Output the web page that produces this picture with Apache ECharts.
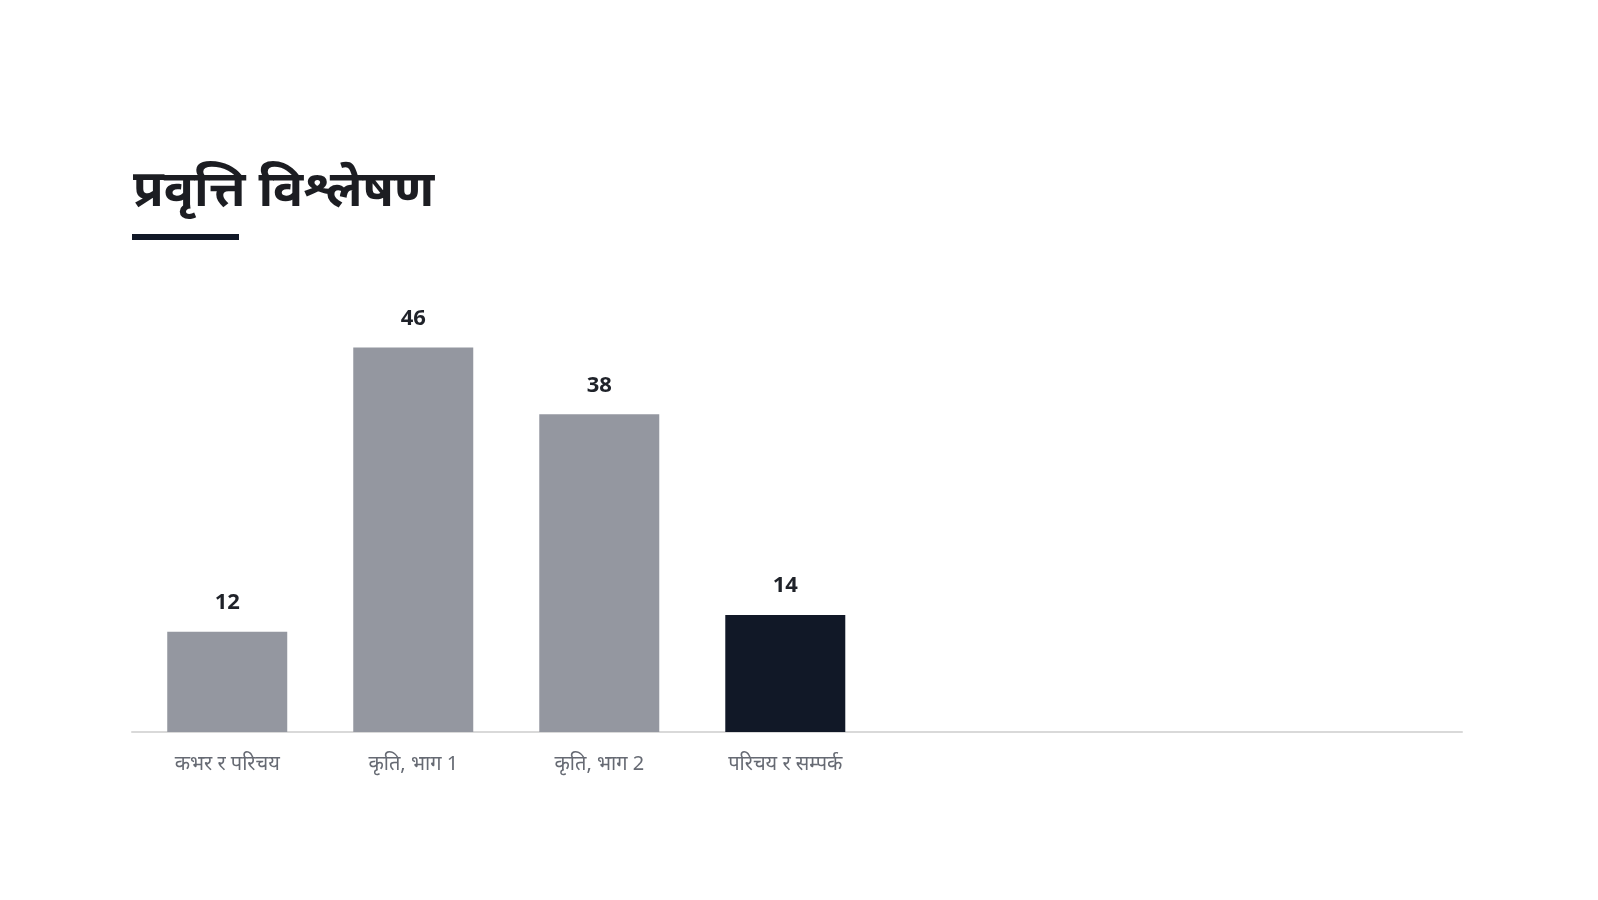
<!DOCTYPE html>
<html>
<head>
<meta charset="utf-8">
<script src="https://cdn.jsdelivr.net/npm/echarts@6/dist/echarts.min.js"></script>
<style>
html,body{margin:0;padding:0;background:#fff;}
#chart{width:1598px;height:900px;}
</style>
</head>
<body>
<div id="chart"></div>
<script>
const titleText = 'प्रवृत्ति विश्लेषण';
const categories = ['कभर र परिचय', 'कृति, भाग 1', 'कृति, भाग 2', 'परिचय र सम्पर्क'];
const values = [12, 46, 38, 14];
const highlightIndex = 3;

const chart = echarts.init(document.getElementById('chart'));
const barData = values.map((v, i) => ({
  value: [i, v],
  itemStyle: { color: i === highlightIndex ? '#111827' : '#9497A0' }
}));

chart.setOption({
  backgroundColor: '#ffffff',
  animation: false,
  title: {
    text: titleText,
    left: 128,
    top: 162,
    textStyle: { fontSize: 50, fontWeight: 'bold', color: '#1c1d22', fontFamily: 'Noto Sans, sans-serif' }
  },
  graphic: [{
    type: 'rect', left: 132, top: 234, shape: { width: 107, height: 6 },
    style: { fill: '#111827' }
  }],
  grid: { left: 132, right: 136, top: 314, bottom: 168, containLabel: false },
  xAxis: {
    type: 'value',
    min: -0.512,
    max: 6.638,
    splitLine: { show: false },
    axisLine: { show: true, onZero: false, lineStyle: { color: '#d9d9d9', width: 2 } },
    axisTick: { show: false },
    axisLabel: {
      customValues: [0, 1, 2, 3],
      formatter: v => categories[Math.round(v)] || '',
      color: '#666a73', fontSize: 20, margin: 22,
      fontFamily: 'Noto Sans, sans-serif'
    }
  },
  yAxis: {
    type: 'value', min: 0, max: 50,
    show: false, splitLine: { show: false }
  },
  series: [{
    type: 'bar',
    data: barData,
    barWidth: 120,
    label: {
      show: true, position: 'top', distance: 18,
      formatter: p => p.value[1],
      fontSize: 22, fontWeight: 'bold', color: '#1f2229',
      fontFamily: 'Noto Sans, sans-serif'
    }
  }]
});
</script>
</body>
</html>
